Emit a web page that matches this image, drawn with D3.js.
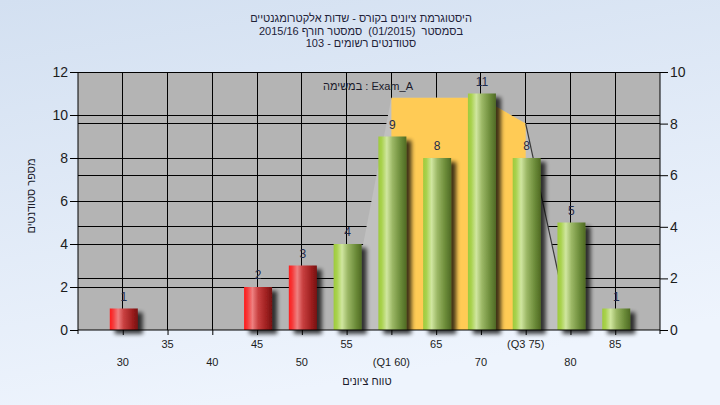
<!DOCTYPE html>
<html>
<head>
<meta charset="utf-8">
<script src="https://cdn.jsdelivr.net/npm/d3@7"></script>
<style>
  html, body { margin: 0; padding: 0; }
  svg { display: block; font-family: "Liberation Sans", Arial, "DejaVu Sans", sans-serif; }
  .pre { white-space: pre; }
</style>
</head>
<body>
<svg id="chart" width="720" height="405"></svg>
<script>
// ---- data ----
const categories = [30, 35, 40, 45, 50, 55, 60, 65, 70, 75, 80, 85];
const tickLabels = ["30", "35", "40", "45", "50", "55", "(Q1 60)", "65", "70", "(Q3 75)", "80", "85"];
const counts = [1, 0, 0, 2, 3, 4, 9, 8, 11, 8, 5, 1];
const passMark = 55;
const areaX = [55, 60, 65, 70, 75, 80];
const areaY = [0, 9, 9, 9, 8, 0];
const q1 = 60, q3 = 75;
const leftTicks = [0, 2, 4, 6, 8, 10, 12];
const rightTicks = [0, 2, 4, 6, 8, 10];
const titleLines = [
  "היסטוגרמת ציונים בקורס - שדות אלקטרומגנטיים",
  "בסמסטר  (01/2015)  סמסטר חורף 2015/16",
  "סטודנטים רשומים - 103"
];
const examLabel = "במשימה\u200E : Exam_A";
const yTitle = "מספר סטודנטים";
const xTitle = "טווח ציונים";

// ---- layout ----
const W = 720, H = 405;
const L = 78, R = 660, T = 72, B = 330;
const svg = d3.select("#chart");
const defs = svg.append("defs");

const bg = defs.append("linearGradient").attr("id", "bg").attr("x1", 0).attr("y1", 0).attr("x2", 0.3).attr("y2", 1);
bg.append("stop").attr("offset", "0%").attr("stop-color", "#d3e0f1");
bg.append("stop").attr("offset", "100%").attr("stop-color", "#eef4fd");

function cyl(id, stops) {
  const g = defs.append("linearGradient").attr("id", id).attr("x1", 0).attr("y1", 0).attr("x2", 1).attr("y2", 0);
  stops.forEach(s => g.append("stop").attr("offset", s[0]).attr("stop-color", s[1]));
}
cyl("gGreen", [["0%", "#9dca3c"], ["12%", "#a9d24e"], ["30%", "#d0e6a0"], ["50%", "#9cb866"], ["80%", "#6a8a38"], ["100%", "#4f6a24"]]);
cyl("gRed", [["0%", "#ff1a1a"], ["12%", "#f53a3a"], ["30%", "#ee8080"], ["50%", "#c84040"], ["80%", "#9e2020"], ["100%", "#761010"]]);

const sh = defs.append("filter").attr("id", "shadow").attr("x", "-20%").attr("y", "-20%").attr("width", "160%").attr("height", "160%");
sh.append("feGaussianBlur").attr("in", "SourceAlpha").attr("stdDeviation", 2).attr("result", "b");
sh.append("feOffset").attr("in", "b").attr("dx", 5).attr("dy", 4).attr("result", "o");
sh.append("feComponentTransfer").attr("in", "o").attr("result", "o2")
  .append("feFuncA").attr("type", "linear").attr("slope", 0.75);
const mg = sh.append("feMerge");
mg.append("feMergeNode").attr("in", "o2");
mg.append("feMergeNode").attr("in", "SourceGraphic");

svg.append("rect").attr("width", W).attr("height", H).attr("fill", "url(#bg)");

// scales
const x = d3.scaleLinear().domain([25, 90]).range([L, R]);
const yL = d3.scaleLinear().domain([0, 12]).range([B, T]);
const yR = d3.scaleLinear().domain([0, 10]).range([B, T]);

// plot area
svg.append("rect").attr("x", L).attr("y", T).attr("width", R - L).attr("height", B - T).attr("fill", "#b4b4b4");

// grid
const grid = svg.append("g").attr("stroke", "#000").attr("stroke-width", 1).attr("shape-rendering", "crispEdges");
leftTicks.filter(v => v > 0 && v < 12).forEach(v => grid.append("line").attr("x1", L).attr("x2", R).attr("y1", yL(v)).attr("y2", yL(v)));
rightTicks.filter(v => v > 0 && v < 10).forEach(v => grid.append("line").attr("x1", L).attr("x2", R).attr("y1", yR(v)).attr("y2", yR(v)));
categories.forEach(c => grid.append("line").attr("x1", x(c)).attr("x2", x(c)).attr("y1", T).attr("y2", B));

// distribution area (right axis)
const pts = areaX.map((v, i) => [v, areaY[i]]);
const area = d3.area().x(d => x(d[0])).y0(yR(0)).y1(d => yR(d[1]));
svg.append("path").datum(pts).attr("d", area).attr("fill", "#c0c0c0");
defs.append("clipPath").attr("id", "iqr").append("rect")
  .attr("x", x(q1)).attr("y", T).attr("width", x(q3) - x(q1)).attr("height", B - T);
svg.append("path").datum(pts).attr("d", area).attr("fill", "#ffcb55").attr("clip-path", "url(#iqr)");
svg.append("path").datum(pts.slice(4)).attr("d", d3.line().x(d => x(d[0])).y(d => yR(d[1])))
  .attr("fill", "none").attr("stroke", "#3a3a3a").attr("stroke-width", 1.2);

// bars
const bw = 28;
const data = categories.map((c, i) => ({ c, v: counts[i], label: tickLabels[i] }));
svg.append("g").selectAll("rect").data(data.filter(d => d.v > 0)).join("rect")
  .attr("x", d => x(d.c) + 1 - bw / 2).attr("width", bw)
  .attr("y", d => yL(d.v)).attr("height", d => yL(0) - yL(d.v))
  .attr("fill", d => d.c < passMark ? "url(#gRed)" : "url(#gGreen)")
  .attr("filter", "url(#shadow)");

svg.append("g").selectAll("text").data(data.filter(d => d.v > 0)).join("text")
  .attr("x", d => x(d.c) + 1).attr("y", d => yL(d.v) - 8)
  .attr("text-anchor", "middle").attr("font-size", 12).attr("fill", "#1f2a4a")
  .text(d => d.v);

// frame
const frame = svg.append("g").attr("stroke", "#000").attr("shape-rendering", "crispEdges");
frame.append("line").attr("x1", L).attr("x2", R).attr("y1", T).attr("y2", T);

// axes
const axL = svg.append("g").attr("transform", `translate(${L},0)`)
  .call(d3.axisLeft(yL).tickValues(leftTicks).tickSize(8).tickPadding(2).tickFormat(d3.format("d")));
const axR = svg.append("g").attr("transform", `translate(${R},0)`)
  .call(d3.axisRight(yR).tickValues(rightTicks).tickSize(8).tickPadding(2).tickFormat(d3.format("d")));
[axL, axR].forEach(a => {
  a.select(".domain").attr("stroke", "#000").attr("d", `M0,${T}V${B + 4}`);
  a.selectAll("line").attr("stroke", "#000");
  a.selectAll("text").attr("font-size", 14).attr("fill", "#1c1c1c").attr("font-family", "Liberation Sans, Arial, sans-serif");
});

const axB = svg.append("g").attr("transform", `translate(0,${B})`)
  .call(d3.axisBottom(x).tickValues(categories).tickSize(5).tickFormat(""));
axB.select(".domain").attr("stroke", "#000").attr("d", `M${L},0H${R}`);
axB.selectAll("line").attr("stroke", "#000");

svg.append("g").selectAll("text").data(data).join("text")
  .attr("x", d => x(d.c)).attr("y", (d, i) => i % 2 === 1 ? 348 : 366)
  .attr("text-anchor", "middle").attr("font-size", 11).attr("fill", "#1c1c1c")
  .text(d => d.label);

// titles
svg.append("g").selectAll("text").data(titleLines).join("text")
  .attr("class", "pre")
  .attr("x", 361).attr("y", (d, i) => 22 + i * 12.5)
  .attr("text-anchor", "middle").attr("font-size", 11).attr("fill", "#222238")
  .attr("direction", "rtl")
  .text(d => d);

svg.append("text").attr("x", 368).attr("y", 90).attr("text-anchor", "middle")
  .attr("font-size", 11).attr("fill", "#1a1a2a").attr("direction", "ltr").text(examLabel);

svg.append("text").attr("transform", "translate(35,196) rotate(-90)").attr("text-anchor", "middle")
  .attr("font-size", 11).attr("fill", "#1a1a2a").attr("direction", "rtl").text(yTitle);

svg.append("text").attr("x", 367).attr("y", 385).attr("text-anchor", "middle")
  .attr("font-size", 11).attr("fill", "#1a1a2a").attr("direction", "rtl").text(xTitle);
</script>
</body>
</html>
